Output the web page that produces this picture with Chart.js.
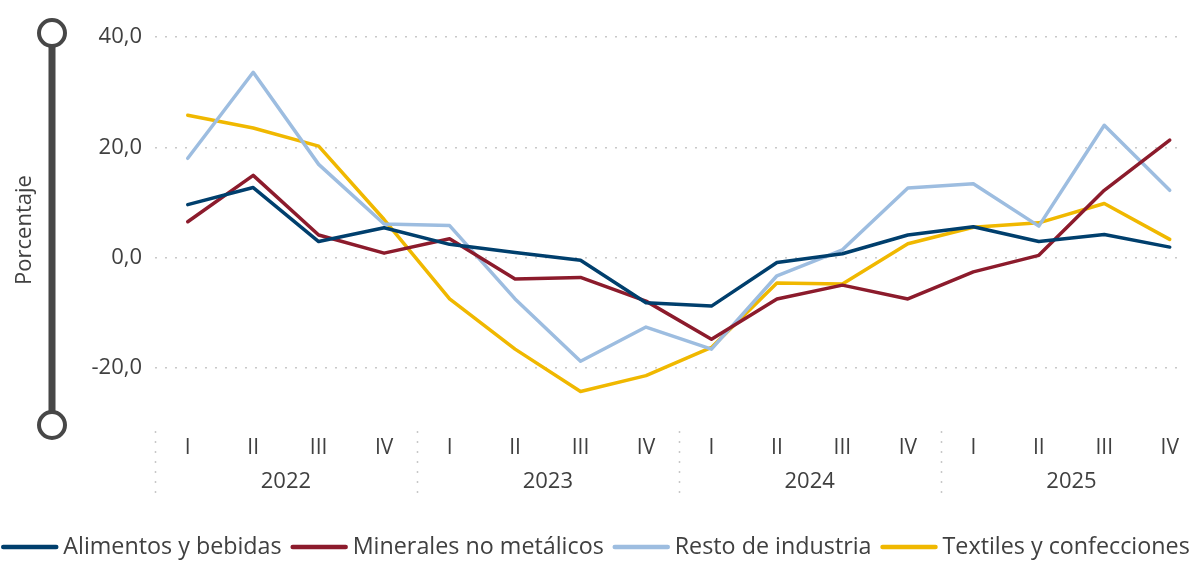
<!DOCTYPE html>
<html>
<head>
<meta charset="utf-8">
<script src="https://cdn.jsdelivr.net/npm/chart.js@4/dist/chart.umd.min.js"></script>
<style>
  html, body { margin: 0; padding: 0; background: #ffffff; }
  #wrap { width: 1191px; height: 561px; position: relative; }
</style>
</head>
<body>
<div id="wrap"><canvas id="c" width="1191" height="561"></canvas></div>
<script>
const years = ['2022', '2023', '2024', '2025'];
const quarters = ['I', 'II', 'III', 'IV'];
const yTicks = [-20, 0, 20, 40];
const seriesNames = ['Alimentos y bebidas', 'Minerales no metálicos', 'Resto de industria', 'Textiles y confecciones'];
const alimentos = [9.6, 12.7, 2.9, 5.4, 2.4, 0.9, -0.5, -8.2, -8.8, -0.9, 0.7, 4.1, 5.6, 2.9, 4.2, 1.9];
const minerales = [6.5, 14.9, 4.1, 0.8, 3.4, -3.9, -3.6, -7.9, -14.8, -7.5, -5.0, -7.5, -2.6, 0.4, 12.2, 21.3];
const resto = [18.0, 33.6, 16.9, 6.1, 5.8, -7.5, -18.8, -12.6, -16.6, -3.3, 1.4, 12.6, 13.4, 5.7, 24.0, 12.2];
const textiles = [25.8, 23.5, 20.2, 6.9, -7.5, -16.6, -24.3, -21.4, -16.3, -4.6, -4.8, 2.5, 5.5, 6.3, 9.8, 3.3];
const colors = ['#003f6d', '#8c1b2c', '#9dbde0', '#f0b800'];

const FONT = '"Open Sans", "Noto Sans", sans-serif';
const TEXT = '#404040';

const quarterLabels = [];
years.forEach(y => quarters.forEach(q => quarterLabels.push(q)));

function toPoints(arr) { return arr.map((v, i) => ({ x: i, y: v })); }

const allSeries = [alimentos, minerales, resto, textiles];
const datasets = allSeries.map((arr, i) => ({
  label: seriesNames[i],
  data: toPoints(arr),
  borderColor: colors[i],
  backgroundColor: colors[i],
  borderWidth: 3.5,
  pointRadius: 0,
  tension: 0,
  fill: false
}));

const decorPlugin = {
  id: 'decor',
  beforeDraw(chart) {
    const { ctx, chartArea, scales } = chart;
    const x = scales.x;
    ctx.save();
    // year separators
    ctx.strokeStyle = '#c8c8c8';
    ctx.lineWidth = 1.5;
    ctx.setLineDash([2, 8]);
    for (let i = 0; i < years.length; i++) {
      const px = Math.round(x.getPixelForValue(i * 4 - 0.5)) + 0.5;
      ctx.beginPath();
      ctx.moveTo(px, chartArea.bottom + 8);
      ctx.lineTo(px, chartArea.bottom + 78);
      ctx.stroke();
    }
    ctx.setLineDash([]);
    // year labels
    ctx.fillStyle = TEXT;
    ctx.font = '22px ' + FONT;
    ctx.textAlign = 'center';
    ctx.textBaseline = 'middle';
    years.forEach((y, i) => {
      const px = x.getPixelForValue(i * 4 + 1.5);
      ctx.fillText(y, px, chartArea.bottom + 59);
    });
    // decorative axis bar
    const bx = 52;
    const top = chartArea.top - 4;
    const bot = chartArea.bottom + 2;
    ctx.strokeStyle = '#474747';
    ctx.lineWidth = 7;
    ctx.beginPath();
    ctx.moveTo(bx, top);
    ctx.lineTo(bx, bot);
    ctx.stroke();
    ctx.lineWidth = 4;
    ctx.fillStyle = '#ffffff';
    [top, bot].forEach(cy => {
      ctx.beginPath();
      ctx.arc(bx, cy, 13, 0, Math.PI * 2);
      ctx.fill();
      ctx.stroke();
    });
    // axis title
    ctx.save();
    ctx.translate(25, (chartArea.top + chartArea.bottom) / 2);
    ctx.rotate(-Math.PI / 2);
    ctx.fillStyle = TEXT;
    ctx.font = '22px ' + FONT;
    ctx.textAlign = 'center';
    ctx.textBaseline = 'middle';
    ctx.fillText('Porcentaje', 0, 0);
    ctx.restore();
    // legend
    ctx.font = '23.3px ' + FONT;
    const lineLen = 57, gapA = 5, gapB = 9;
    const widths = chart.data.datasets.map(d => ctx.measureText(d.label).width);
    let total = 0;
    widths.forEach((w, i) => { total += lineLen + gapA + w + (i < widths.length - 1 ? gapB : 0); });
    let lx = (chart.width - total) / 2;
    const ly = 547;
    ctx.textAlign = 'left';
    ctx.textBaseline = 'middle';
    chart.data.datasets.forEach((d, i) => {
      ctx.strokeStyle = d.borderColor;
      ctx.lineWidth = 4.5;
      ctx.lineCap = 'round';
      ctx.beginPath();
      ctx.moveTo(lx + 2, ly);
      ctx.lineTo(lx + lineLen - 2, ly);
      ctx.stroke();
      lx += lineLen + gapA;
      ctx.fillStyle = TEXT;
      ctx.fillText(d.label, lx, ly);
      lx += widths[i] + gapB;
    });
    ctx.restore();
  }
};

new Chart(document.getElementById('c'), {
  type: 'line',
  data: { datasets },
  plugins: [decorPlugin],
  options: {
    responsive: false,
    animation: false,
    events: [],
    layout: { padding: { top: 37, right: 8, bottom: 48, left: 0 } },
    plugins: { legend: { display: false }, tooltip: { enabled: false } },
    elements: { line: { borderCapStyle: 'round', borderJoinStyle: 'round' } },
    scales: {
      x: {
        type: 'linear',
        min: -0.5,
        max: 15.15,
        afterBuildTicks(scale) { scale.ticks = quarterLabels.map((_, i) => ({ value: i })); },
        afterFit(scale) { scale.height = 90; },
        grid: { display: false, drawTicks: false },
        border: { display: false },
        ticks: {
          autoSkip: false,
          maxRotation: 0,
          padding: 12,
          color: TEXT,
          font: { family: FONT, size: 21 },
          callback: (v) => quarterLabels[v]
        }
      },
      y: {
        min: -30,
        max: 40,
        afterBuildTicks(scale) { scale.ticks = yTicks.map(v => ({ value: v })); },
        afterFit(scale) { scale.width = 155; },
        grid: { color: '#c8c8c8', lineWidth: 1.5, drawTicks: false },
        border: { display: false, dash: [2, 8] },
        ticks: {
          padding: 13,
          color: TEXT,
          font: { family: FONT, size: 22 },
          callback: (v) => v.toFixed(1).replace('.', ',')
        }
      }
    }
  }
});
</script>
</body>
</html>
